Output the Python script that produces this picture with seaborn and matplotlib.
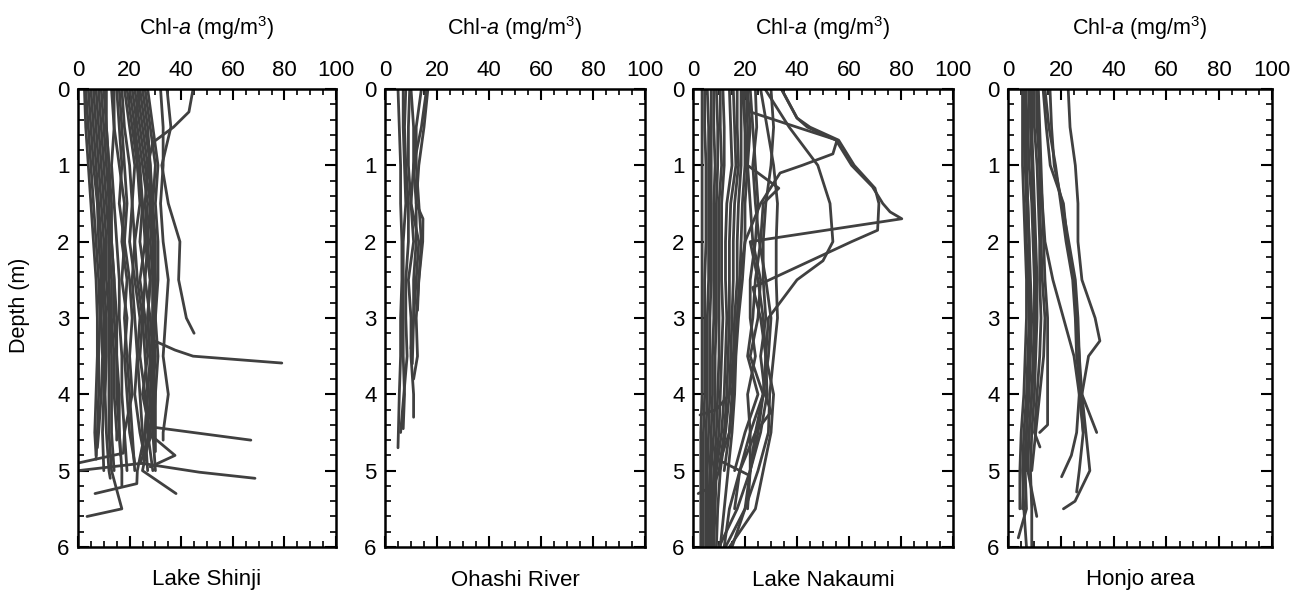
import numpy as np
import pandas as pd
import matplotlib
matplotlib.use("Agg")
import matplotlib.pyplot as plt
import seaborn as sns
from matplotlib.ticker import MultipleLocator

# ---------------- data ----------------
DEPTH_GRID = [0.0, 0.5, 1.0, 1.5, 2.0, 2.5, 3.0, 3.5, 4.0, 4.5, 5.0, 5.5, 6.0]

# Lake Shinji: Chl-a on DEPTH_GRID (profile stops where list ends) + extra (depth, chl) knots
shinji_chl = [
    [3, 4, 5, 6, 7, 8, 8.5, 8, 8, 7.5],
    [4, 5, 6, 7.5, 8, 9, 9, 9.5, 9, 8],
    [5, 6, 7, 8, 9, 9.5, 10, 10, 10, 9.5, 10],
    [6, 7, 8, 9, 10, 10, 11, 11, 10.5, 11, 12],
    [7, 8, 9, 10, 11, 11, 12, 12, 12, 12, 13, 17],
    [8, 9, 10, 11, 12, 12, 12.5, 13, 13, 13, 14],
    [9, 10, 11, 12, 12, 13, 13, 14, 14, 15],
    [10, 11, 12, 13, 13, 14, 14, 15, 15, 16, 17],
    [11, 11, 12, 12, 13, 14, 15, 15, 16, 16],
    [2.5, 3, 4, 5, 6, 7, 7.5, 7.5, 7, 6.5],
    [14, 14, 13, 14, 15, 16, 16, 17, 17, 18, 19],
    [15, 16, 17, 16, 18, 17, 19, 18, 19, 20],
    [16, 17, 18, 19, 18, 20, 21, 20, 21, 18],
    [17, 18, 20, 21, 22, 21, 22, 23, 22, 24],
    [18, 20, 22, 21, 20, 22, 24, 23, 24, 25],
    [19, 21, 23, 24, 22, 23, 25, 24, 26, 27],
    [20, 22, 24, 25, 26, 24, 26, 27, 25, 28, 25],
    [21, 23, 25, 27, 26, 28, 27, 28, 27, 26, 23],
    [22, 24, 26, 28, 27, 26, 28, 29, 28, 27, 29],
    [23, 25, 27, 29, 28, 29, 29, 29, 28, 29],
    [24, 26, 28, 28, 29, 30, 29, 30, 29],
    [25, 27, 28, 29, 29, 29, 29],
    [34.5, 36, 32.5, 35, 39.5, 39, 42],
    [44.6, 37, 27, 26, 27, 28, 27, 28, 29, 28],
    [32, 33, 33, 32, 33, 35, 34, 33, 35, 33],
    [24, 22, 23, 25, 24, 26, 25, 26, 27, 26, 27],
    [26, 28, 30, 29, 30, 30, 30, 29, 30, 29, 30],
    [13, 14, 16, 18, 17, 19, 18, 19, 20, 21, 22],
    [27, 29, 31, 30, 31, 31, 30, 31, 30, 30],
]
shinji_extra = {
    0: [(4.85, 7)], 1: [(4.7, 7.5)], 3: [(5.1, 12.5)], 4: [(5.6, 3.5)],
    6: [(4.6, 15)], 7: [(5.2, 17)], 8: [(4.8, 16.5)], 9: [(4.8, 7)],
    11: [(4.9, 22)], 12: [(4.77, 17.6), (4.9, 0)], 13: [(4.85, 26)],
    14: [(4.9, 25.6), (5.0, 0)], 15: [(4.8, 37.6), (4.95, 28)],
    16: [(5.3, 38)], 17: [(5.17, 22.8), (5.3, 6.6)],
    19: [(4.9, 24), (5.02, 47), (5.1, 68.6)], 20: [(4.43, 29), (4.6, 67)],
    21: [(3.29, 29), (3.42, 37.6), (3.5, 44.6), (3.59, 79)],
    22: [(3.2, 45)], 23: [(0.3, 43), (0.7, 29), (4.7, 26)], 24: [(4.6, 33)],
    28: [(4.75, 30)],
}

# Ohashi River
ohashi_chl = [
    [5, 5.5, 6, 6, 6.5, 6.5, 6, 6, 5.5],
    [7, 7, 7.5, 8, 7, 7, 7, 7, 7.5],
    [8, 7.5, 8, 9, 9, 8, 8, 8.5],
    [9.5, 9, 9, 10, 11, 9, 10, 10, 11],
    [10, 11, 11, 12, 12, 11, 11],
    [14, 12, 12, 13, 14, 13],
    [16.5, 15, 13, 12, 14.5, 13, 12, 12.5],
    [16, 14, 11, 10, 13, 12, 11],
]
ohashi_extra = {
    0: [(4.7, 5)], 1: [(4.45, 7)], 2: [(4.5, 6)], 3: [(4.3, 11)],
    4: [(3.6, 10.5)], 5: [(2.9, 12.5)], 6: [(1.7, 14.6), (3.8, 11)], 7: [(3.4, 10)],
}

# Lake Nakaumi
nakaumi_chl = [
    [3.5, 3.5, 3.5, 3.5, 3.5, 3.5, 3.5, 3.5, 3.5, 3.0, 3.0, 3.0, 3.0],
    [4.5, 4.5, 5, 5, 5, 4.5, 4.5, 4.5, 4.5, 4, 4, 4, 4],
    [5.5, 6, 6, 6, 6, 6, 5.5, 5.5, 5.5, 5, 5, 5, 5],
    [7, 7, 7, 7, 7, 7, 6.5, 6.5, 6.5, 6, 5.5, 5.5, 5.5],
    [8, 8, 8.5, 8, 8, 8, 8, 7.5, 7.5, 7, 6.5, 6, 6],
    [9, 9.5, 9.5, 9, 9, 9, 9, 8.5, 8.5, 8, 7, 7, 6.5],
    [10.5, 10.5, 11, 10, 10, 10, 10, 10, 9.5, 9, 8, 7.5, 7],
    [11.5, 12, 12, 11, 11, 11, 11.5, 11, 10.5, 10, 8.5, 8, 7.5],
    [14, 14.5, 15, 13, 12.5, 12.5, 13, 12.5, 12, 11, 9, 8.5, 8],
    [15.5, 16, 16.5, 14.5, 14, 14, 14, 13.5, 13, 12, 10],
    [17, 17, 17.5, 16, 15.5, 15.5, 15, 14.5, 14, 12.5, 10.5, 9.5, 9],
    [18.5, 18.5, 18.5, 17.5, 17, 17, 16, 15.5, 14],
    [19.5, 20, 20, 19, 18.5, 18, 17, 16, 15, 14],
    [20.5, 21, 21, 20, 20, 19, 17.5, 16.5, 16, 15, 13.5, 12, 10.5],
    [26, 28.5, 31, 32.5, 32, 32, 32.5, 31, 29.5, 29, 25, 20, 12.5],
    [27.7, 37, 48, 52.7, 53.8, 40, 29, 28, 27, 25, 22],
    [20, 40, 42, 26, 20, 18, 17, 16, 15.5, 14, 12],
    [34, 44, 61, 73, 22, 25, 27, 28, 28.5, 26, 22, 17, 10],
    [34, 45, 62, 71.5, 61, 29.4, 26, 28, 31, 30, 27, 24, 14],
    [24, 24.5, 23, 24, 25.5, 28, 30, 29, 27, 24, 22, 20, 15],
    [30, 31, 30, 28, 27, 27, 28, 26, 27.7, 24, 18, 14, 12],
    [22, 23, 24, 25, 24, 22, 22, 24, 21, 22, 22, 21],
    [21, 22, 21, 27, 26, 24, 23, 21, 25, 20, 16],
    [19, 20, 21, 22, 23, 26, 25, 22, 27, 22, 18, 16],
]
nakaumi_extra = {
    9: [(5.2, 8), (5.3, 2)], 11: [(4.2, 9), (4.27, 2.7)],
    12: [(4.87, 10.4), (5.05, 21)], 15: [(2.25, 50)],
    16: [(0.3, 22), (0.67, 55.4), (0.85, 53.8), (1.1, 33.5)],
    17: [(0.38, 40), (0.67, 55), (1.28, 69), (1.61, 75.8), (1.7, 80.3)],
    18: [(0.38, 40), (0.67, 56), (1.3, 70), (1.85, 71), (2.6, 23)],
    20: [(4.23, 30)], 22: [(1.3, 33)],
}

# Honjo area
honjo_chl = [
    [5.5, 5.5, 5.5, 6, 6.5, 7, 7, 6.5, 6, 5, 4.5, 4.5],
    [6, 6, 6.5, 7, 7, 7.5, 8, 7.5, 7, 6, 5.5, 6, 7],
    [7, 6.5, 7, 7.5, 8, 8.5, 9, 8.5, 8, 7, 6.5, 7],
    [8, 7.5, 8, 9, 9.5, 10, 10, 9.5, 9, 8, 7.5],
    [9, 9, 9.5, 10, 10.5, 11, 11, 10.5, 10, 9, 8.5, 9, 9],
    [10, 10, 11, 11.5, 12, 12, 12.5, 12, 11, 10],
    [11, 11, 12, 12, 12.5, 13, 14, 13.5, 12, 10.5, 9],
    [11.5, 12, 12.5, 13, 13.5, 14, 15, 15, 15],
    [6.5, 7, 7, 7.5, 8, 8, 8.5, 8, 7.5, 7, 6, 5.5],
    [8.5, 8.5, 9, 9.5, 10, 10.5, 10.5, 10, 9, 8, 7],
    [11, 11.5, 12, 13, 14, 17, 21, 25, 27, 28.5],
    [13.3, 14.5, 16, 21, 22.5, 25, 26, 27, 27, 26],
    [14, 15.5, 18, 20, 22, 24.5, 25.5, 26, 27.5, 28.5, 27],
    [15.9, 16.5, 17.5, 20.5, 23, 25.5, 26.5, 27, 28, 29.5, 31],
    [22.8, 23.5, 25.5, 26.5, 26.5, 28, 33, 30.5, 28, 33.6],
]
honjo_extra = {
    2: [(5.88, 3.9)], 3: [(5.6, 10.9)], 5: [(4.69, 12.1)],
    7: [(4.4, 15), (4.5, 12)], 11: [(4.8, 24), (5.08, 20.3)],
    12: [(5.28, 26)], 13: [(5.4, 25.4), (5.5, 21)], 14: [(3.3, 34.8)],
}

panel_titles = ["Lake Shinji", "Ohashi River", "Lake Nakaumi", "Honjo area"]
x_ticks = [0, 20, 40, 60, 80, 100]
y_ticks = [0, 1, 2, 3, 4, 5, 6]


def build(chl, extra):
    rows = []
    for i, prof in enumerate(chl):
        for d, v in zip(DEPTH_GRID, prof):
            rows.append((i, d, v))
        for d, v in extra.get(i, []):
            rows.append((i, d, v))
    return pd.DataFrame(rows, columns=["profile", "depth", "chl"])


panels = [build(shinji_chl, shinji_extra), build(ohashi_chl, ohashi_extra),
          build(nakaumi_chl, nakaumi_extra), build(honjo_chl, honjo_extra)]

# ---------------- style ----------------
sns.set_style("ticks")
plt.rcParams["font.family"] = ["Liberation Sans", "DejaVu Sans"]
plt.rcParams["mathtext.fontset"] = "custom"
plt.rcParams["mathtext.rm"] = "Liberation Sans"
plt.rcParams["mathtext.it"] = "Liberation Sans:italic"
plt.rcParams["text.color"] = "black"
plt.rcParams["axes.labelcolor"] = "black"

W, H = 1292, 592
fig = plt.figure(figsize=(W / 100, H / 100), dpi=100)
lefts = [78, 385, 693, 1008]
widths = [258, 260, 260, 264]
top_px, bot_px = 89, 547

LINE = "#404040"
for k, df in enumerate(panels):
    ax = fig.add_axes([lefts[k] / W, (H - bot_px) / H, widths[k] / W, (bot_px - top_px) / H])
    sns.lineplot(data=df, x="chl", y="depth", units="profile", estimator=None,
                 orient="y", color=LINE, linewidth=2.0, legend=False, ax=ax)
    ax.set_xlim(0, 100)
    ax.set_ylim(6, 0)
    ax.set_xticks(x_ticks)
    ax.set_yticks(y_ticks)
    ax.xaxis.set_minor_locator(MultipleLocator(5))
    ax.yaxis.set_minor_locator(MultipleLocator(0.2))
    ax.xaxis.tick_top()
    ax.tick_params(which="both", direction="in", top=True, bottom=True, left=True,
                   right=True, labeltop=True, labelbottom=False, labelleft=True,
                   labelright=False, colors="black", labelsize=16)
    ax.tick_params(which="major", length=8, width=1.5, pad=6)
    ax.tick_params(which="minor", length=4, width=1.2)
    for s in ax.spines.values():
        s.set_visible(True)
        s.set_linewidth(1.8)
        s.set_color("black")
    ax.set_xlabel(r"Chl-$\mathit{a}$ (mg/m$^{3}$)", fontsize=15.5, color="black")
    ax.xaxis.set_label_position("top")
    ax.xaxis.set_label_coords(0.5, 1 + (top_px - 28) / (bot_px - top_px))
    ax.xaxis.label.set_va("center")
    if k == 0:
        ax.set_ylabel("Depth (m)", fontsize=15.5, color="black")
        ax.yaxis.set_label_coords((20 - lefts[0]) / widths[0],
                                  (bot_px - 305) / (bot_px - top_px))
        ax.yaxis.label.set_va("center")
    else:
        ax.set_ylabel("")
    ax.text(0.5, -(580 - bot_px) / (bot_px - top_px), panel_titles[k],
            transform=ax.transAxes, ha="center", va="center", fontsize=16,
            color="black")

fig.savefig("out.png", dpi=100)
